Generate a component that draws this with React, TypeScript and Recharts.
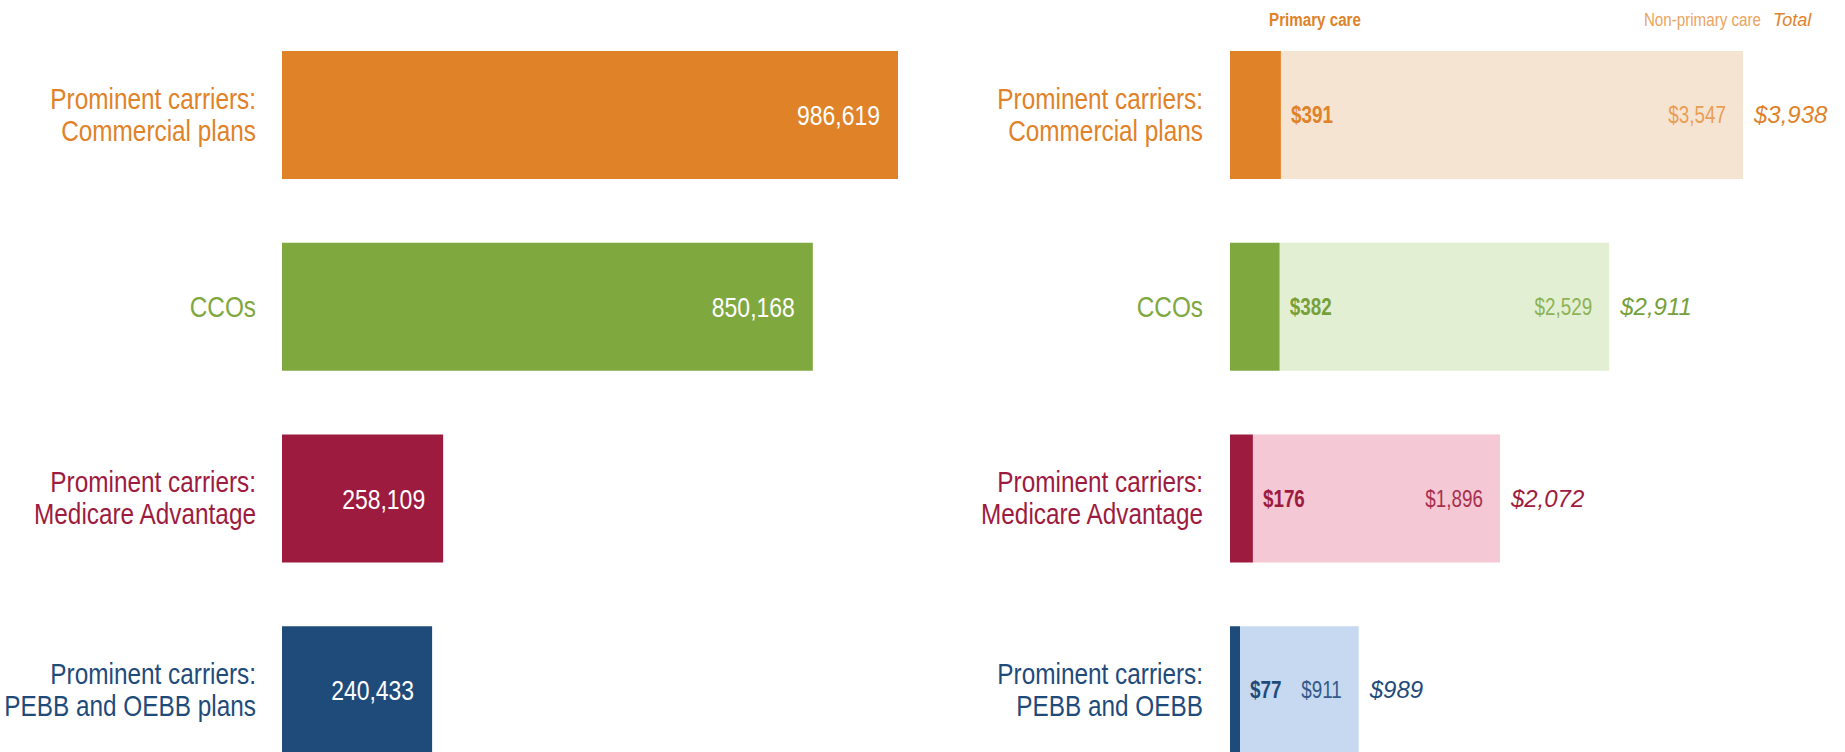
import React from 'react';
import { BarChart, Bar, XAxis, YAxis, Cell, LabelList } from 'recharts';

// ---- data ----
const categories = [
  'Prominent carriers: Commercial plans',
  'CCOs',
  'Prominent carriers: Medicare Advantage',
  'Prominent carriers: PEBB and OEBB plans',
];
const rightCategories = [
  'Prominent carriers: Commercial plans',
  'CCOs',
  'Prominent carriers: Medicare Advantage',
  'Prominent carriers: PEBB and OEBB',
];
const members = [986619, 850168, 258109, 240433];
const primaryCare = [391, 382, 176, 77];
const nonPrimaryCare = [3547, 2529, 1896, 911];
const totals = [3938, 2911, 2072, 989];
const headerLabels = ['Primary care', 'Non-primary care', 'Total'];

// ---- styles ----
const darkColors = ['#E08228', '#7FA83F', '#9E1B40', '#1F4B7B'];
const lightColors = ['#F6E4D2', '#E3EFD3', '#F4C8D4', '#C6D9F0'];
const primaryText = ['#E08228', '#76A03A', '#9E1B40', '#1F4B7B'];
const secondaryText = ['#E99E55', '#8DB356', '#A8304F', '#34598A'];
const SANS = "'Liberation Sans', Arial, sans-serif";

const leftData = categories.map((name, i) => ({ name, members: members[i] }));
const rightData = rightCategories.map((name, i) => ({
  name,
  primary: primaryCare[i],
  nonPrimary: nonPrimaryCare[i],
  total: totals[i],
}));

const fmt = (v: number) => v.toLocaleString('en-US');
const money = (v: number) => '$' + v.toLocaleString('en-US');

function splitLabel(s: string): string[] {
  const i = s.indexOf(': ');
  if (i < 0) return [s];
  return [s.slice(0, i + 1), s.slice(i + 2)];
}

// Arial-Narrow-like text: Liberation Sans squeezed horizontally
function NarrowText(props: any) {
  const { x, y, anchor, fill, fontSize, fontWeight, children, scale } = props;
  const s = scale || 0.82;
  return (
    <g transform={`translate(${x},${y}) scale(${s},1)`}>
      <text x={0} y={0} textAnchor={anchor} fill={fill} fontFamily={SANS} fontSize={fontSize} fontWeight={fontWeight || 'normal'}>
        {children}
      </text>
    </g>
  );
}

function CategoryTick(props: any) {
  const { x, y, payload, index } = props;
  const lines = splitLabel(String(payload.value));
  const color = darkColors[index % darkColors.length];
  if (lines.length === 2) {
    return (
      <g>
        <NarrowText x={x} y={y - 6} anchor="end" fill={color} fontSize={29} scale={0.84}>{lines[0]}</NarrowText>
        <NarrowText x={x} y={y + 26} anchor="end" fill={color} fontSize={29} scale={0.84}>{lines[1]}</NarrowText>
      </g>
    );
  }
  return <NarrowText x={x} y={y + 10} anchor="end" fill={color} fontSize={29} scale={0.84}>{lines[0]}</NarrowText>;
}

function MemberLabel(props: any) {
  const { x, y, width, height, value } = props;
  return (
    <NarrowText x={x + width - 18} y={y + height / 2 + 10} anchor="end" fill="#ffffff" fontSize={28}>
      {fmt(value)}
    </NarrowText>
  );
}

function PrimaryLabel(props: any) {
  const { x, y, width, height, value, index } = props;
  return (
    <NarrowText x={x + width + 10} y={y + height / 2 + 8} anchor="start" fill={primaryText[index]} fontSize={23} fontWeight="bold">
      {money(value)}
    </NarrowText>
  );
}

function NonPrimaryLabel(props: any) {
  const { x, y, width, height, value, index } = props;
  return (
    <NarrowText x={x + width - 17} y={y + height / 2 + 8} anchor="end" fill={secondaryText[index]} fontSize={23}>
      {money(value)}
    </NarrowText>
  );
}

function TotalLabel(props: any) {
  const { x, y, width, height, value, index } = props;
  return (
    <text x={x + width + 11} y={y + height / 2 + 8} textAnchor="start" fill={primaryText[index]} fontFamily={SANS} fontStyle="italic" fontSize={24}>
      {money(value)}
    </text>
  );
}

export default function App() {
  const chartHeight = 786;
  return (
    <div style={{ position: 'absolute', left: 0, top: 0, width: 1845, height: 752, overflow: 'hidden', background: '#ffffff' }}>
      <div style={{ position: 'absolute', left: 0, top: 0 }}>
        <BarChart
          width={900}
          height={chartHeight}
          data={leftData}
          layout="vertical"
          margin={{ top: 19, right: 2, bottom: 0, left: 0 }}
        >
          <XAxis type="number" hide domain={[0, Math.max(...members)]} />
          <YAxis
            type="category"
            dataKey="name"
            width={282}
            axisLine={false}
            tickLine={false}
            tickSize={0}
            tickMargin={26}
            tick={<CategoryTick />}
            interval={0}
          />
          <Bar dataKey="members" barSize={128} isAnimationActive={false}>
            {leftData.map((_, i) => (
              <Cell key={i} fill={darkColors[i]} />
            ))}
            <LabelList dataKey="members" content={<MemberLabel />} />
          </Bar>
        </BarChart>
      </div>
      <div style={{ position: 'absolute', left: 920, top: 0 }}>
        <BarChart
          width={925}
          height={chartHeight}
          data={rightData}
          layout="vertical"
          margin={{ top: 19, right: 102, bottom: 0, left: 0 }}
        >
          <XAxis type="number" hide domain={[0, Math.max(...totals)]} />
          <YAxis
            type="category"
            dataKey="name"
            width={310}
            axisLine={false}
            tickLine={false}
            tickSize={0}
            tickMargin={27}
            tick={<CategoryTick />}
            interval={0}
          />
          <Bar dataKey="primary" stackId="a" barSize={128} isAnimationActive={false}>
            {rightData.map((_, i) => (
              <Cell key={i} fill={darkColors[i]} />
            ))}
            <LabelList dataKey="primary" content={<PrimaryLabel />} />
          </Bar>
          <Bar dataKey="nonPrimary" stackId="a" barSize={128} isAnimationActive={false}>
            {rightData.map((_, i) => (
              <Cell key={i} fill={lightColors[i]} />
            ))}
            <LabelList dataKey="nonPrimary" content={<NonPrimaryLabel />} />
            <LabelList dataKey="total" content={<TotalLabel />} />
          </Bar>
        </BarChart>
      </div>
      <svg style={{ position: 'absolute', left: 0, top: 0 }} width={1845} height={40}>
        <NarrowText x={1315} y={26} anchor="middle" fill="#E08228" fontSize={18.5} fontWeight="bold">
          {headerLabels[0]}
        </NarrowText>
        <NarrowText x={1761} y={26} anchor="end" fill="#EBA35E" fontSize={18.5}>
          {headerLabels[1]}
        </NarrowText>
        <text x={1773} y={26} textAnchor="start" fill="#E08228" fontFamily={SANS} fontStyle="italic" fontSize={18}>
          {headerLabels[2]}
        </text>
      </svg>
    </div>
  );
}
